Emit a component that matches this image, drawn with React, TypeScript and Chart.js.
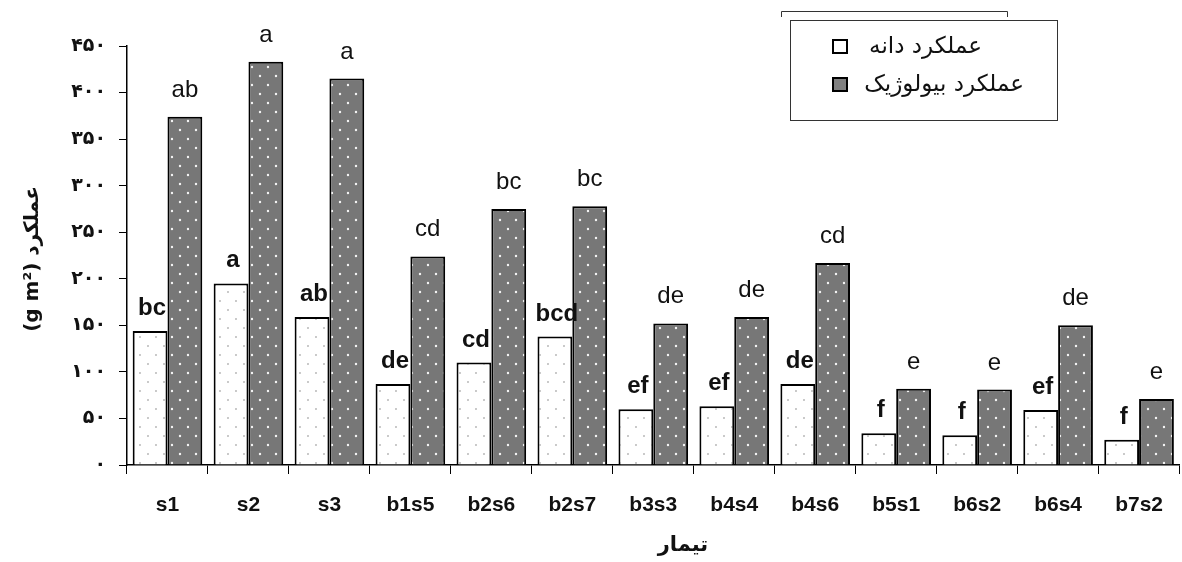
import React, { useEffect, useRef } from "react";
import { Chart, registerables } from "chart.js";

Chart.register(...registerables);

const categories = ["s1", "s2", "s3", "b1s5", "b2s6", "b2s7", "b3s3", "b4s4", "b4s6", "b5s1", "b6s2", "b6s4", "b7s2"];
const grainYield = [144, 195, 159, 87, 110, 138, 60, 63, 87, 34, 32, 59, 27];
const bioYield = [374, 433, 415, 224, 275, 278, 152, 159, 217, 82, 81, 150, 71];
const grainLetters = ["bc", "a", "ab", "de", "cd", "bcd", "ef", "ef", "de", "f", "f", "ef", "f"];
const bioLetters = ["ab", "a", "a", "cd", "bc", "bc", "de", "de", "cd", "e", "e", "de", "e"];
const yTicks = [0, 50, 100, 150, 200, 250, 300, 350, 400, 450];
const legendLabels = ["عملکرد دانه", "عملکرد بیولوژیک"];
const xTitle = "تیمار";
const yTitle = "(g m²) عملکرد";

const persianDigits = "۰۱۲۳۴۵۶۷۸۹";
const toPersian = (n: number) => String(n).replace(/[0-9]/g, (d) => persianDigits[Number(d)]);

function makePattern(bg: string, dot: string, r: number) {
  const c = document.createElement("canvas");
  c.width = 16;
  c.height = 18;
  const x = c.getContext("2d")!;
  x.fillStyle = bg;
  x.fillRect(0, 0, 16, 18);
  x.fillStyle = dot;
  x.beginPath();
  x.arc(4, 4, r, 0, Math.PI * 2);
  x.arc(12, 13, r, 0, Math.PI * 2);
  x.fill();
  const p = x.createPattern(c, "repeat");
  return p as CanvasPattern;
}

const ARABIC = "'DejaVu Sans', sans-serif";
const LATIN = "'Liberation Sans', Arial, sans-serif";

const decorPlugin = {
  id: "decor",
  afterDatasetsDraw(chart: any) {
    const ctx: CanvasRenderingContext2D = chart.ctx;
    ctx.save();
    // significance letters
    const sets = [
      { letters: grainLetters, font: `bold 24px ${LATIN}`, gap: 16 },
      { letters: bioLetters, font: `24px ${LATIN}`, gap: 20 },
    ];
    sets.forEach((s, i) => {
      const meta = chart.getDatasetMeta(i);
      ctx.font = s.font;
      ctx.fillStyle = "#111";
      ctx.textAlign = "center";
      ctx.textBaseline = "alphabetic";
      meta.data.forEach((bar: any, j: number) => {
        ctx.fillText(s.letters[j], bar.x + (i === 0 ? 2 : 0), bar.y - s.gap);
      });
    });

    // legend
    ctx.strokeStyle = "#333";
    ctx.lineWidth = 1;
    ctx.strokeRect(790.5, 20.5, 267, 100);
    ctx.beginPath();
    ctx.moveTo(781.5, 17);
    ctx.lineTo(781.5, 11.5);
    ctx.lineTo(1007.5, 11.5);
    ctx.lineTo(1007.5, 17);
    ctx.stroke();

    ctx.lineWidth = 2;
    ctx.strokeStyle = "#000";
    ctx.fillStyle = "#fff";
    ctx.fillRect(833, 40, 14, 13);
    ctx.strokeRect(833, 40, 14, 13);
    ctx.fillStyle = "#808080";
    ctx.fillRect(833, 78, 14, 13);
    ctx.strokeRect(833, 78, 14, 13);

    ctx.fillStyle = "#111";
    ctx.font = `23px ${ARABIC}`;
    ctx.textAlign = "right";
    ctx.textBaseline = "middle";
    ctx.fillText(legendLabels[0], 982, 47);
    ctx.fillText(legendLabels[1], 1024, 85);

    // axis titles
    ctx.font = `bold 21px ${ARABIC}`;
    ctx.textAlign = "center";
    ctx.textBaseline = "middle";
    ctx.fillText(xTitle, 683, 546);

    ctx.translate(33, 259);
    ctx.rotate(-Math.PI / 2);
    ctx.font = `bold 20px ${ARABIC}`;
    ctx.fillText(yTitle, 0, 0);
    ctx.restore();
  },
};

export default function App() {
  const ref = useRef<HTMLCanvasElement>(null);
  useEffect(() => {
    const canvas = ref.current!;
    const whitePat = makePattern("#ffffff", "#b8b8b8", 1);
    const grayPat = makePattern("#777777", "#f4f4f4", 1.2);
    const chart = new Chart(canvas, {
      type: "bar",
      data: {
        labels: categories,
        datasets: [
          {
            label: legendLabels[0],
            data: grainYield,
            backgroundColor: whitePat,
            borderColor: "#000",
            borderWidth: 2,
            borderSkipped: "bottom",
            barPercentage: 1,
            categoryPercentage: 0.86,
          },
          {
            label: legendLabels[1],
            data: bioYield,
            backgroundColor: grayPat,
            borderColor: "#000",
            borderWidth: 2,
            borderSkipped: "bottom",
            barPercentage: 1,
            categoryPercentage: 0.86,
          },
        ],
      },
      options: {
        responsive: false,
        animation: false,
        layout: { padding: { top: 46, left: 0, right: 0, bottom: 0 } },
        plugins: { legend: { display: false }, tooltip: { enabled: false } },
        scales: {
          x: {
            afterFit: (s: any) => {
              s.height = 97;
            },
            grid: {
              drawOnChartArea: false,
              drawTicks: true,
              tickLength: 9,
              color: "#000",
              offset: true,
            },
            border: { color: "#000", width: 1.5 },
            ticks: {
              color: "#111",
              font: { family: LATIN, size: 21, weight: "bold" },
              padding: 19,
              maxRotation: 0,
              autoSkip: false,
            },
          },
          y: {
            min: 0,
            max: 450,
            afterFit: (s: any) => {
              s.width = 127;
            },
            afterBuildTicks: (s: any) => {
              s.ticks = yTicks.map((v) => ({ value: v }));
            },
            grid: {
              drawOnChartArea: false,
              drawTicks: true,
              tickLength: 8,
              color: "#000",
            },
            border: { color: "#000", width: 1.5 },
            ticks: {
              color: "#111",
              font: { family: ARABIC, size: 19, weight: "bold" },
              padding: 13,
              callback: (v: any) => toPersian(Number(v)),
            },
          },
        },
      },
      plugins: [decorPlugin],
    } as any);
    return () => chart.destroy();
  }, []);
  return (
    <div style={{ position: "fixed", left: 0, top: 0, width: 1182, height: 562, background: "#fff" }}>
      <canvas ref={ref} width={1182} height={562} style={{ display: "block" }} />
    </div>
  );
}
